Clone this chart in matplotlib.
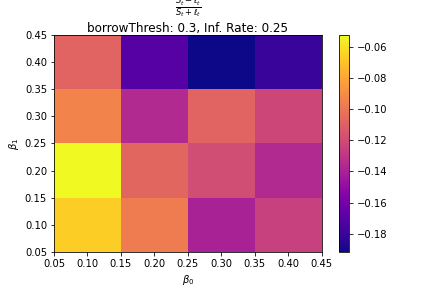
import matplotlib
matplotlib.use("Agg")
import matplotlib.pyplot as plt
import numpy as np

# grid edges for beta0 / beta1
beta0_edges = [0.05, 0.15, 0.25, 0.35, 0.45]
beta1_edges = [0.05, 0.15, 0.25, 0.35, 0.45]

# rows = beta1 (0.1, 0.2, 0.3, 0.4), cols = beta0 (0.1, 0.2, 0.3, 0.4)
row_b1_01 = [-0.066, -0.097, -0.140, -0.125]
row_b1_02 = [-0.052, -0.107, -0.119, -0.136]
row_b1_03 = [-0.094, -0.136, -0.108, -0.122]
row_b1_04 = [-0.108, -0.171, -0.192, -0.181]

vals = np.array([row_b1_01, row_b1_02, row_b1_03, row_b1_04])

fig = plt.figure(figsize=(6, 4), dpi=72)
plt.subplots_adjust(bottom=0.124)
plt.pcolormesh(beta0_edges, beta1_edges, vals, cmap="plasma")
plt.colorbar()
plt.xlabel(r"$\beta_0$")
plt.ylabel(r"$\beta_1$")
plt.title(r"$\frac{S_t-\ell_t}{S_t+\ell_t}$" + "\n" + "borrowThresh: 0.3, Inf. Rate: 0.25", pad=2)

plt.savefig("out.png")
plt.close()
